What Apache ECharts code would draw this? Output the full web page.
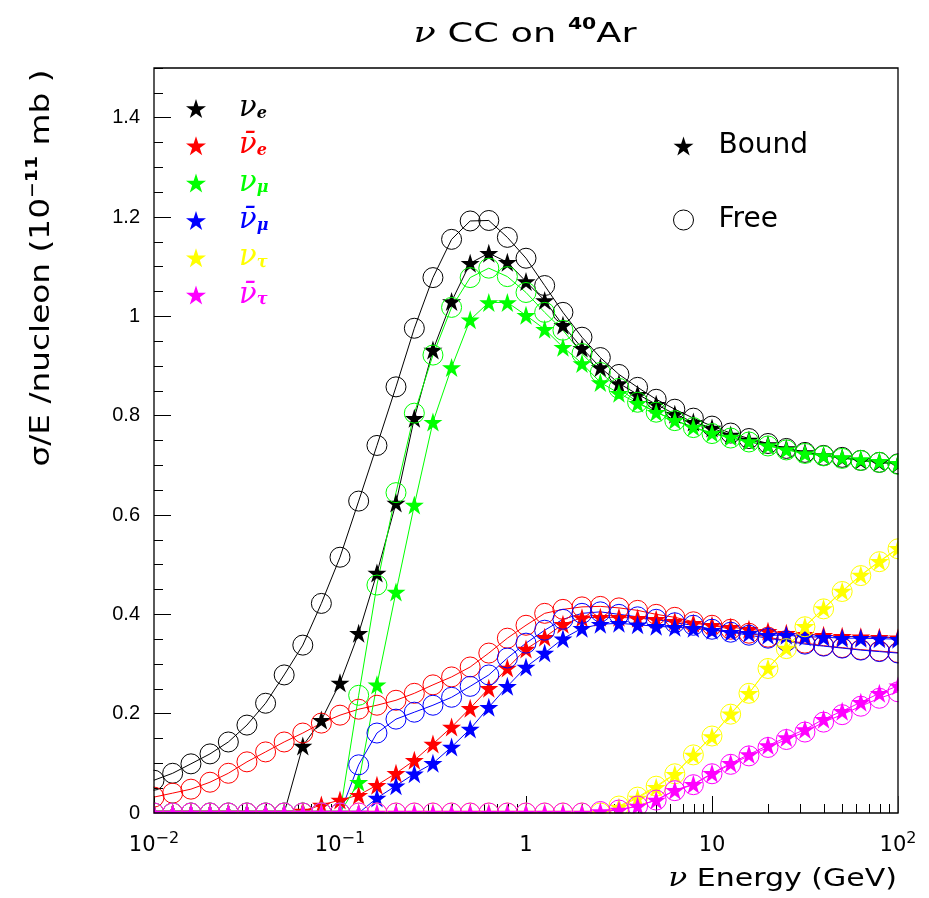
<!DOCTYPE html>
<html>
<head>
<meta charset="utf-8">
<script src="https://cdn.jsdelivr.net/npm/echarts@6/dist/echarts.min.js"></script>
<style>html,body{margin:0;padding:0;background:#fff}#c{width:929px;height:898px}</style>
</head>
<body>
<div id="c"></div>
<script>
// ---------------- data ----------------
const energies = [0.01,0.0126,0.0158,0.02,0.0251,0.0316,0.0398,0.0501,0.0631,0.0794,
  0.1,0.126,0.158,0.2,0.251,0.316,0.398,0.501,0.631,0.794,
  1,1.26,1.58,2,2.51,3.16,3.98,5.01,6.31,7.94,
  10,12.6,15.8,20,25.1,31.6,39.8,50.1,63.1,79.4,100];

const nueBound = [0,0,0,0,0,0,0,0,0.135,0.187,
  0.262,0.362,0.483,0.624,0.795,0.932,1.03,1.107,1.127,1.109,
  1.07,1.032,0.982,0.936,0.897,0.865,0.843,0.823,0.803,0.787,
  0.775,0.761,0.751,0.742,0.734,0.726,0.72,0.715,0.71,0.706,0.703];
const nueFree = [0.066,0.08,0.099,0.119,0.143,0.177,0.221,0.278,0.338,0.422,
  0.515,0.628,0.74,0.858,0.976,1.078,1.155,1.192,1.193,1.159,
  1.117,1.062,1.008,0.958,0.917,0.883,0.857,0.833,0.813,0.795,
  0.779,0.765,0.754,0.744,0.734,0.726,0.72,0.716,0.71,0.706,0.703];
const nuebarBound = [0,0,0,0,0,0,0,0,0.004,0.016,
  0.026,0.036,0.056,0.08,0.106,0.139,0.173,0.211,0.251,0.292,
  0.33,0.354,0.38,0.393,0.394,0.394,0.392,0.39,0.386,0.382,
  0.378,0.374,0.37,0.366,0.362,0.36,0.358,0.356,0.355,0.354,0.353];
const nuebarFree = [0.032,0.04,0.048,0.062,0.08,0.103,0.123,0.143,0.161,0.181,
  0.197,0.209,0.217,0.227,0.241,0.258,0.274,0.294,0.322,0.352,
  0.378,0.402,0.41,0.415,0.416,0.413,0.408,0.4,0.394,0.385,
  0.378,0.37,0.362,0.354,0.347,0.342,0.337,0.333,0.329,0.326,0.323];
const numuBound = [0,0,0,0,0,0,0,0,0,0,
  0,0.062,0.258,0.445,0.62,0.787,0.897,0.993,1.028,1.028,
  1.002,0.974,0.938,0.905,0.867,0.845,0.825,0.807,0.791,0.777,
  0.765,0.757,0.748,0.74,0.732,0.724,0.72,0.716,0.712,0.708,0.704];
const numuFree = [0,0,0,0,0,0,0,0,0,0,
  0,0.237,0.459,0.645,0.805,0.922,1.018,1.078,1.097,1.08,
  1.048,1.008,0.972,0.925,0.887,0.855,0.827,0.807,0.79,0.776,
  0.764,0.755,0.747,0.739,0.731,0.724,0.719,0.714,0.71,0.706,0.702];
const numubarBound = [0,0,0,0,0,0,0,0,0,0,
  0,0,0.03,0.055,0.079,0.1,0.133,0.169,0.213,0.255,
  0.294,0.322,0.351,0.372,0.38,0.382,0.379,0.376,0.374,0.372,
  0.368,0.364,0.362,0.358,0.358,0.355,0.354,0.352,0.352,0.351,0.35];
const numubarFree = [0,0,0,0,0,0,0,0,0,0,
  0,0.097,0.161,0.189,0.203,0.217,0.233,0.255,0.278,0.312,
  0.342,0.368,0.39,0.402,0.405,0.4,0.395,0.39,0.383,0.378,
  0.37,0.364,0.358,0.352,0.346,0.34,0.336,0.332,0.328,0.325,0.322];
const nutauBound = [0,0,0,0,0,0,0,0,0,0,
  0,0,0,0,0,0,0,0,0,0,
  0,0,0,0,0,0.012,0.03,0.052,0.078,0.117,
  0.154,0.2,0.241,0.292,0.332,0.376,0.412,0.447,0.479,0.507,0.533];
const nutauFree = [0,0,0,0,0,0,0,0,0,0,
  0,0,0,0,0,0,0,0,0,0,
  0,0,0,0,0,0.014,0.032,0.054,0.079,0.117,
  0.155,0.199,0.241,0.291,0.331,0.375,0.411,0.446,0.478,0.506,0.532];
const nutaubarBound = [0,0,0,0,0,0,0,0,0,0,
  0,0,0,0,0,0,0,0,0,0,
  0,0,0,0,0.003,0.006,0.014,0.026,0.046,0.058,
  0.08,0.1,0.118,0.136,0.152,0.168,0.189,0.205,0.223,0.241,0.256];
const nutaubarFree = [0,0,0,0,0,0,0,0,0,0,
  0,0,0,0,0,0,0,0,0,0,
  0,0,0,0,0.003,0.006,0.014,0.026,0.045,0.057,
  0.079,0.098,0.115,0.132,0.148,0.163,0.183,0.198,0.215,0.231,0.244];

const xMajorTicks = [0.01,0.1,1,10,100];
const xMinorTicks = [0.02,0.03,0.04,0.05,0.06,0.07,0.08,0.09,
  0.2,0.3,0.4,0.5,0.6,0.7,0.8,0.9,2,3,4,5,6,7,8,9,20,30,40,50,60,70,80,90];
const yMajorTicks = [0,0.2,0.4,0.6,0.8,1,1.2,1.4];
const yMinorTicks = [0.05,0.1,0.15,0.25,0.3,0.35,0.45,0.5,0.55,0.65,0.7,0.75,
  0.85,0.9,0.95,1.05,1.1,1.15,1.25,1.3,1.35,1.45,1.5];

const flavors = [
  {name:'nue', label:'{g|}{nu|ν}{sub|e}', color:'#000000', bound:nueBound, free:nueFree},
  {name:'nuebar', label:'{g|}{nu|ν̄}{sub|e}', color:'#ff0000', bound:nuebarBound, free:nuebarFree},
  {name:'numu', label:'{g|}{nu|ν}{sub|μ}', color:'#00ff00', bound:numuBound, free:numuFree},
  {name:'numubar', label:'{g|}{nu|ν̄}{sub|μ}', color:'#0000ff', bound:numubarBound, free:numubarFree},
  {name:'nutau', label:'{g|}{nu|ν}{sub|τ}', color:'#ffff00', bound:nutauBound, free:nutauFree},
  {name:'nutaubar', label:'{g|}{nu|ν̄}{sub|τ}', color:'#ff00ff', bound:nutaubarBound, free:nutaubarFree}
];

// ---------------- layout ----------------
const G = {left:154, top:68, right:898, bottom:813};
const STAR = 'path://M0,-10L2.245,-3.09L9.511,-3.09L3.633,1.18L5.878,8.09L0,3.82L-5.878,8.09L-3.633,1.18L-9.511,-3.09L-2.245,-3.09Z';
const SANS = 'DejaVu Sans';

function pairs(ys){ return energies.map((e,i)=>[e, ys[i]]); }

const series = [];
flavors.forEach(f=>{
  series.push({
    name:f.name, type:'line', data:pairs(f.bound), clip:false,
    symbol:STAR, symbolSize:19,
    itemStyle:{color:f.color},
    lineStyle:{color:f.color, width:1},
    emphasis:{disabled:true}, animation:false
  });
  series.push({
    name:f.name+' free', type:'line', data:pairs(f.free), clip:false,
    symbol:'circle', symbolSize:20,
    itemStyle:{color:'rgba(0,0,0,0)', borderColor:f.color, borderWidth:1},
    lineStyle:{color:f.color, width:1},
    emphasis:{disabled:true}, animation:false
  });
});
series.push({name:'Bound', type:'line', data:[], symbol:STAR, itemStyle:{color:'#000'}, lineStyle:{color:'#000'}});
series.push({name:'Free', type:'line', data:[], symbol:'circle', itemStyle:{color:'rgba(0,0,0,0)', borderColor:'#000', borderWidth:1}, lineStyle:{color:'#000'}});

const chart = echarts.init(document.getElementById('c'), null, {renderer:'canvas'});

const legendRich = {
  g:{width:28},
  nu:{fontFamily:'DejaVu Serif', fontStyle:'italic', fontSize:29, lineHeight:26, verticalAlign:'middle'},
  sub:{fontFamily:'DejaVu Serif', fontStyle:'italic', fontWeight:'bold', fontSize:16, lineHeight:10, verticalAlign:'bottom'}
};

const option = {
  animation:false,
  backgroundColor:'#ffffff',
  grid:{left:G.left, top:G.top, right:929-G.right, bottom:898-G.bottom, containLabel:false},
  legend:[{
    orient:'vertical', left:181, top:89, itemWidth:20, itemHeight:20, itemGap:8.3,
    selectedMode:false,
    data:flavors.map(f=>({name:f.name, icon:STAR, textStyle:{color:f.color}})),
    formatter:name=>flavors.find(f=>f.name===name).label,
    textStyle:{fontFamily:SANS, fontSize:18, rich:legendRich}
  },{
    orient:'vertical', left:668, top:127, itemWidth:20, itemHeight:20, itemGap:46,
    selectedMode:false,
    data:[
      {name:'Bound', icon:STAR, itemStyle:{color:'#000'}},
      {name:'Free', icon:'circle', itemStyle:{color:'rgba(0,0,0,0)', borderColor:'#000', borderWidth:1}}
    ],
    formatter:'{g|}{t|{name}}',
    textStyle:{fontFamily:SANS, fontSize:28, color:'#000', rich:{g:{width:20}, t:{fontFamily:SANS, fontSize:28, lineHeight:26}}}
  }],
  xAxis:[{
    type:'log', logBase:10, min:0.01, max:100, position:'bottom',
    axisLine:{show:false},
    axisTick:{show:true, inside:true, length:17, lineStyle:{color:'#000'}, customValues:xMajorTicks},
    axisLabel:{show:true, margin:18, color:'#000', fontFamily:SANS, fontSize:21, lineHeight:30,
      customValues:xMajorTicks,
      formatter:v=>{
        if (Math.abs(v-0.01)<1e-9) return '10{sup|−2}';
        if (Math.abs(v-0.1)<1e-9) return '10{sup|−1}';
        if (Math.abs(v-1)<1e-9) return '1';
        if (Math.abs(v-10)<1e-9) return '10';
        if (Math.abs(v-100)<1e-9) return '10{sup|2}';
        return '';
      },
      rich:{sup:{fontFamily:SANS, fontSize:16, lineHeight:14, verticalAlign:'top'}}
    },
    splitLine:{show:false}, minorTick:{show:false}
  },{
    type:'log', logBase:10, min:0.01, max:100, position:'bottom',
    axisLine:{show:false}, axisLabel:{show:false}, splitLine:{show:false},
    axisTick:{show:true, inside:true, length:9, lineStyle:{color:'#000'}, customValues:xMinorTicks}
  }],
  yAxis:[{
    type:'value', min:0, max:1.5, position:'left',
    axisLine:{show:false},
    axisTick:{show:true, inside:true, length:17, lineStyle:{color:'#000'}, customValues:yMajorTicks},
    axisLabel:{show:true, margin:14, color:'#000', fontFamily:'Liberation Sans', fontSize:20, customValues:yMajorTicks,
      formatter:v=>String(+v.toFixed(2))},
    splitLine:{show:false}
  },{
    type:'value', min:0, max:1.5, position:'left',
    axisLine:{show:false}, axisLabel:{show:false}, splitLine:{show:false},
    axisTick:{show:true, inside:true, length:9, lineStyle:{color:'#000'}, customValues:yMinorTicks}
  }],
  series:series,
  graphic:[
    // masks clipping markers to the frame (ROOT clips markers at the pad frame)
    {type:'rect', z:100, silent:true, shape:{x:G.left-13, y:G.top-8, width:12.5, height:G.bottom-G.top+22}, style:{fill:'#fff'}},
    {type:'rect', z:100, silent:true, shape:{x:G.left-13, y:G.bottom+0.5, width:G.right-G.left+28, height:13}, style:{fill:'#fff'}},
    {type:'rect', z:100, silent:true, shape:{x:G.right+0.5, y:G.top-8, width:14, height:G.bottom-G.top+22}, style:{fill:'#fff'}},
    // frame
    {type:'rect', z:101, silent:true, shape:{x:G.left, y:G.top, width:G.right-G.left, height:G.bottom-G.top},
      style:{fill:'none', stroke:'#000', lineWidth:1.3}},
    // main title
    {type:'text', z:101, silent:true, x:525, y:35, scaleX:1.36,
      style:{text:'{nu|ν} CC on {sup|40}Ar', fontFamily:SANS, fontSize:27, fill:'#000',
        align:'center', verticalAlign:'middle', lineHeight:34,
        rich:{
          nu:{fontFamily:'DejaVu Serif', fontStyle:'italic', fontSize:27, lineHeight:34},
          sup:{fontFamily:SANS, fontSize:15, fontWeight:'bold', lineHeight:18, verticalAlign:'top'}
        }}},
    // y-axis title
    {type:'text', z:101, silent:true, x:42, y:268, rotation:Math.PI/2, scaleX:1.26,
      style:{text:'σ/E /nucleon (10{sup|−11} mb )', fontFamily:SANS, fontSize:26, fill:'#000',
        align:'center', verticalAlign:'middle', lineHeight:32,
        rich:{sup:{fontFamily:SANS, fontSize:15, fontWeight:'bold', lineHeight:16, verticalAlign:'top'}}}},
    // x-axis title
    {type:'text', z:101, silent:true, x:897, y:879, scaleX:1.2,
      style:{text:'{nu|ν} Energy (GeV)', fontFamily:SANS, fontSize:25, fill:'#000',
        align:'right', verticalAlign:'middle', lineHeight:32,
        rich:{nu:{fontFamily:'DejaVu Serif', fontStyle:'italic', fontSize:26, lineHeight:32}}}}
  ]
};
chart.setOption(option);
</script>
</body>
</html>
